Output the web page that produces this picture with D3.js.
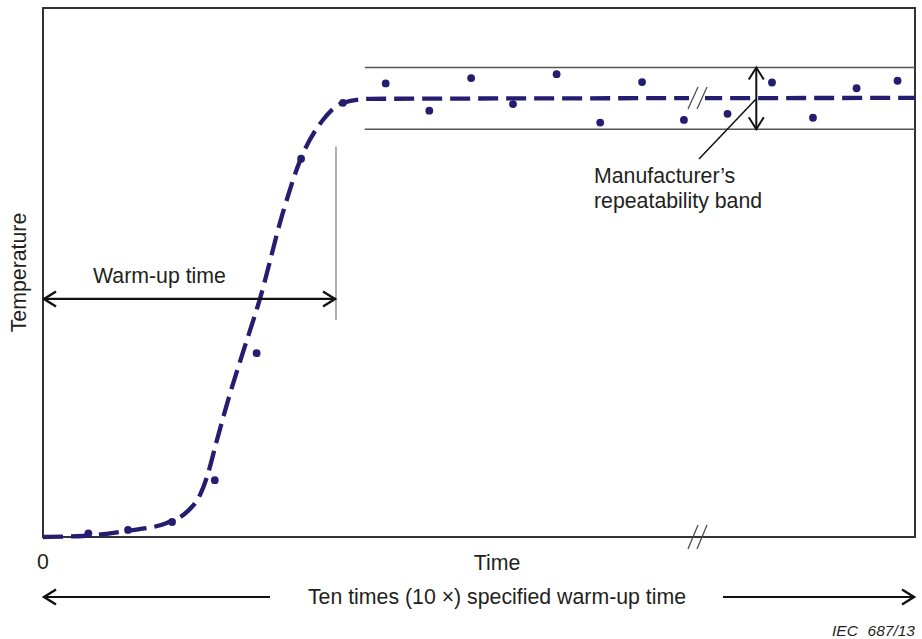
<!DOCTYPE html>
<html><head><meta charset="utf-8">
<script src="https://cdn.jsdelivr.net/npm/d3@7"></script>
<style>
body{margin:0;background:#fff;}
text{font-family:"Liberation Sans",Arial,sans-serif;fill:#231f20;}
</style></head>
<body><svg id="c" width="922" height="639"></svg>
<script>
// Fitted warm-up curve (time, temperature)
const curveTime = [0, 4.6, 9.6, 14.2, 16.5, 18.0, 18.8, 19.95, 21.4, 22.9, 24.9, 27.5, 29.5, 32.1, 34.4, 37.5, 100];
const curveTemp = [0, 0.23, 1.36, 3.2, 5.7, 9.5, 13.6, 22.0, 32.2, 41.7, 54.2, 73.5, 85.5, 94.6, 98.5, 99.4, 99.6];
// Measured points
const pointTime = [5.2, 9.75, 14.8, 19.7, 24.5, 29.6, 34.4, 39.3, 44.3, 49.1, 53.9, 58.9, 63.9, 68.7, 73.5, 78.5, 83.6, 88.3, 93.3, 98.0];
const pointTemp = [0.8, 1.6, 3.4, 12.9, 41.7, 85.8, 98.5, 102.9, 96.7, 104.1, 98.2, 105.0, 94.0, 103.2, 94.6, 96.0, 103.1, 95.1, 101.8, 103.5];
// Annotations (data units)
const bandLimits = [92.5, 106.5];
const bandStart = 36.9;
const warmUpEnd = 33.6;
const warmUpArrowTemp = 54.0;
const warmUpTickRange = [49.2, 88.5];
const bandArrowTime = 81.8;
const breakTime = 75;
const labels = {
  yAxis: "Temperature", xAxis: "Time", zero: "0",
  warm: "Warm-up time",
  band1: "Manufacturer\u2019s", band2: "repeatability band",
  span: "Ten times (10 \u00d7) specified warm-up time",
  iec1: "IEC", iec2: "687/13"
};

const svg = d3.select("#c");
const L = 43, R = 915, T = 8, B = 537;
const x = d3.scaleLinear().domain([0, 100]).range([L, R]);
const y = d3.scaleLinear().domain([0, 120]).range([B, T]);
const navy = "#241d70";

function arrowHead(g, px, py, dir, col, sw) {
  const s = 12, w = 7.5;
  const ca = Math.cos(dir), sa = Math.sin(dir);
  const p = (dx, dy) => [px + dx * ca - dy * sa, py + dx * sa + dy * ca];
  g.append("path").attr("d", d3.line()([p(-s, -w), p(0, 0), p(-s, w)]))
    .attr("fill", "none").attr("stroke", col).attr("stroke-width", sw)
    .attr("stroke-linejoin", "miter");
}

// frame
svg.append("rect").attr("x", L).attr("y", T).attr("width", R - L).attr("height", B - T)
  .attr("fill", "none").attr("stroke", "#333").attr("stroke-width", 2);

// band lines
bandLimits.forEach(v => {
  svg.append("line").attr("x1", x(bandStart)).attr("x2", x(100)).attr("y1", y(v)).attr("y2", y(v))
    .attr("stroke", "#555").attr("stroke-width", 1.3);
});

// warm-up vertical tick
svg.append("line").attr("x1", x(warmUpEnd)).attr("x2", x(warmUpEnd))
  .attr("y1", y(warmUpTickRange[0])).attr("y2", y(warmUpTickRange[1]))
  .attr("stroke", "#777").attr("stroke-width", 1.2);

// curve
const curveData = curveTime.map((t, i) => [t, curveTemp[i]]);
const lineGen = d3.line().x(d => x(d[0])).y(d => y(d[1])).curve(d3.curveMonotoneX);
svg.append("path").attr("d", lineGen(curveData)).attr("fill", "none")
  .attr("stroke", navy).attr("stroke-width", 4.3).attr("stroke-dasharray", "20,8");

// points
svg.selectAll("circle.pt").data(pointTime.map((t, i) => [t, pointTemp[i]])).join("circle")
  .attr("class", "pt").attr("cx", d => x(d[0])).attr("cy", d => y(d[1])).attr("r", 3.9).attr("fill", navy);

// break marks
function breakMark(cx, cy, len) {
  const g = svg.append("g");
  g.append("rect").attr("x", cx - 8).attr("y", cy - 5).attr("width", 16).attr("height", 10).attr("fill", "#fff");
  [-4, 5].forEach(off => {
    g.append("line").attr("x1", cx + off - 5).attr("y1", cy + len).attr("x2", cx + off + 5).attr("y2", cy - len)
      .attr("stroke", "#444").attr("stroke-width", 1.2);
  });
}
breakMark(x(breakTime), y(99.6), 11);
(function(){
  const cx = x(breakTime), cy = B;
  [-4, 5].forEach(off => {
    svg.append("line").attr("x1", cx + off - 5).attr("y1", cy + 12).attr("x2", cx + off + 5).attr("y2", cy - 12)
      .attr("stroke", "#444").attr("stroke-width", 1.2);
  });
})();

// band double arrow
const ba = svg.append("g");
ba.append("line").attr("x1", x(bandArrowTime)).attr("x2", x(bandArrowTime))
  .attr("y1", y(bandLimits[1])).attr("y2", y(bandLimits[0])).attr("stroke", "#111").attr("stroke-width", 2);
arrowHead(ba, x(bandArrowTime), y(bandLimits[1]), -Math.PI / 2, "#111", 2);
arrowHead(ba, x(bandArrowTime), y(bandLimits[0]), Math.PI / 2, "#111", 2);
// leader
svg.append("line").attr("x1", x(bandArrowTime)).attr("y1", y(99.4)).attr("x2", 699).attr("y2", 159)
  .attr("stroke", "#111").attr("stroke-width", 1.5);

// warm-up arrow
const wa = svg.append("g");
wa.append("line").attr("x1", x(0)).attr("x2", x(warmUpEnd)).attr("y1", y(warmUpArrowTemp)).attr("y2", y(warmUpArrowTemp))
  .attr("stroke", "#111").attr("stroke-width", 2.2);
arrowHead(wa, x(0) + 1, y(warmUpArrowTemp), Math.PI, "#111", 2.4);
arrowHead(wa, x(warmUpEnd) - 1, y(warmUpArrowTemp), 0, "#111", 2.4);

// bottom span arrows
const sy = 597;
svg.append("line").attr("x1", L).attr("x2", 270).attr("y1", sy).attr("y2", sy).attr("stroke", "#111").attr("stroke-width", 2.2);
svg.append("line").attr("x1", 723).attr("x2", R).attr("y1", sy).attr("y2", sy).attr("stroke", "#111").attr("stroke-width", 2.2);
arrowHead(svg, L + 1, sy, Math.PI, "#111", 2.4);
arrowHead(svg, R - 1, sy, 0, "#111", 2.4);

// texts
const fs = 21.3;
svg.append("text").attr("transform", `translate(26,${(T + B) / 2}) rotate(-90)`).attr("text-anchor", "middle")
  .attr("font-size", fs).text(labels.yAxis);
svg.append("text").attr("x", 497).attr("y", 570).attr("text-anchor", "middle").attr("font-size", fs).text(labels.xAxis);
svg.append("text").attr("x", 43).attr("y", 569).attr("text-anchor", "middle").attr("font-size", fs).text(labels.zero);
svg.append("text").attr("x", 93).attr("y", 283).attr("font-size", fs).text(labels.warm);
svg.append("text").attr("x", 594).attr("y", 183).attr("font-size", fs).text(labels.band1);
svg.append("text").attr("x", 594).attr("y", 208).attr("font-size", fs).text(labels.band2);
svg.append("text").attr("x", 497).attr("y", 604).attr("text-anchor", "middle").attr("font-size", fs).text(labels.span);
svg.append("text").attr("x", 832).attr("y", 636).attr("font-size", 15.5).attr("font-style", "italic").text(labels.iec1);
svg.append("text").attr("x", 915).attr("y", 636).attr("text-anchor", "end").attr("font-size", 15.5).attr("font-style", "italic").text(labels.iec2);
</script></body></html>
